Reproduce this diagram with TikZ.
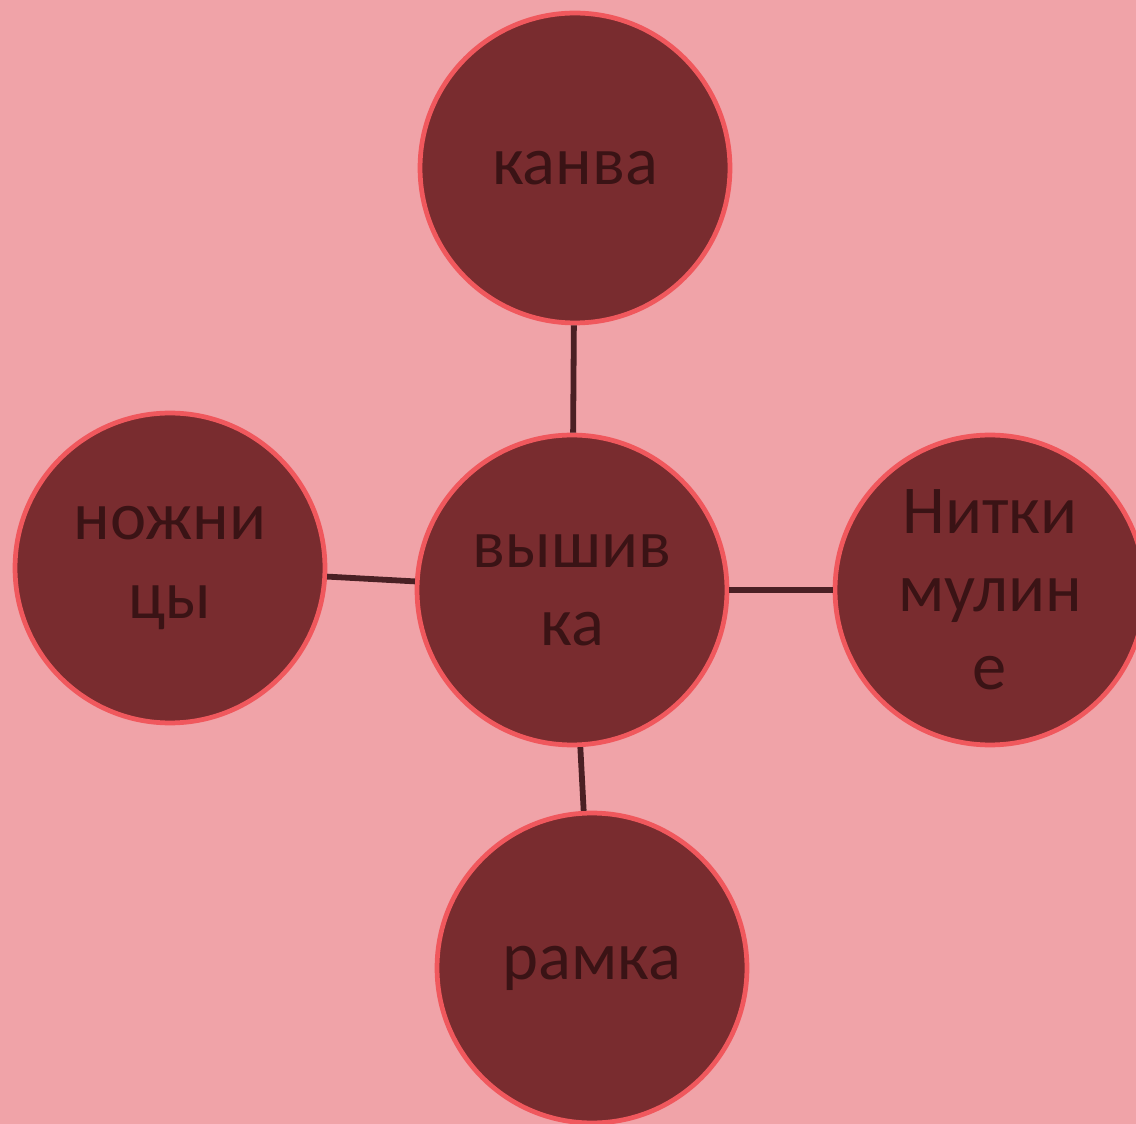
\documentclass[tikz,border=0pt]{standalone}
\usepackage{fontspec}
\setmainfont{Carlito}
\usepackage{tikz}

\definecolor{bgpink}{HTML}{F0A3A8}
\definecolor{discfill}{HTML}{792C2F}
\definecolor{discrim}{HTML}{F0585D}
\definecolor{disctext}{HTML}{3A1315}
\definecolor{linkline}{HTML}{4A2024}

\begin{document}
\begin{tikzpicture}[
  x=0.02cm, y=-0.02cm,
  disc/.style={circle, draw=discrim, fill=discfill, line width=2.7pt,
               minimum size=6.2cm, inner sep=0pt, align=center,
               text=disctext, font=\fontsize{39}{44.5}\selectfont},
  link/.style={draw=linkline, line width=3.3pt}
]
\fill[bgpink] (0,0) rectangle (1136,1124);
\clip (0,0) rectangle (1136,1124);

\node[disc] (vyshivka) at (572,590) {вышив\\ка};
\node[disc] (kanva)    at (575,168) {канва};
\node[disc] (nozhnicy) at (170,568) {ножни\\цы};
\node[disc] (niti)     at (990,590) {Нитки\\мулин\\е};
\node[disc] (ramka)    at (592,968) {рамка};

\draw[link] (kanva)    -- (vyshivka);
\draw[link] (nozhnicy) -- (vyshivka);
\draw[link] (vyshivka) -- (niti);
\draw[link] (vyshivka) -- (ramka);
\end{tikzpicture}
\end{document}
